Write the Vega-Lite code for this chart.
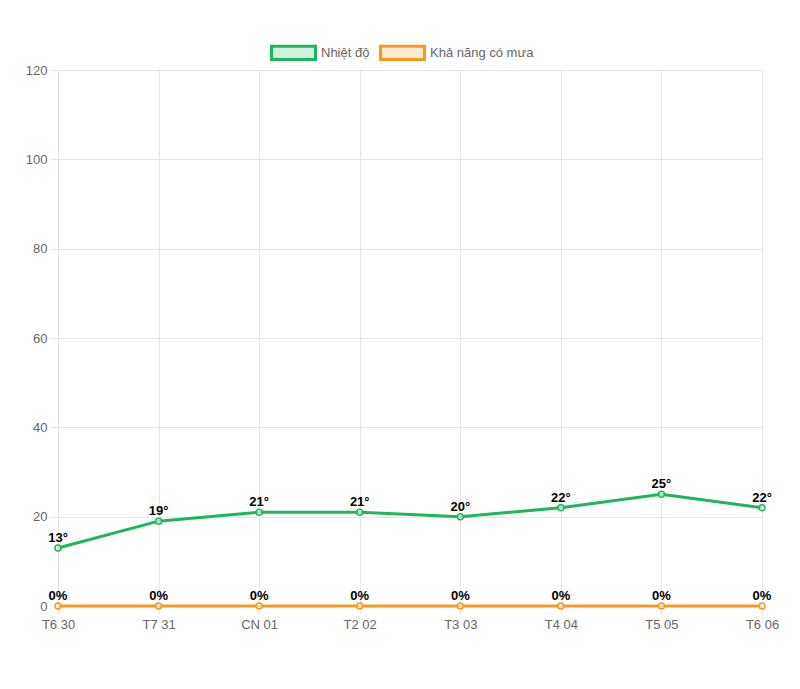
{
  "$schema": "https://vega.github.io/schema/vega-lite/v6.json",
  "width": 704,
  "height": 536,
  "autosize": {"type": "none"},
  "padding": {"left": 58, "top": 70, "right": 38, "bottom": 83},
  "background": "white",
  "data": {
    "values": [
      {"day": "T6 30", "series": "Nhiệt độ", "value": 13, "label": "13°"},
      {"day": "T7 31", "series": "Nhiệt độ", "value": 19, "label": "19°"},
      {"day": "CN 01", "series": "Nhiệt độ", "value": 21, "label": "21°"},
      {"day": "T2 02", "series": "Nhiệt độ", "value": 21, "label": "21°"},
      {"day": "T3 03", "series": "Nhiệt độ", "value": 20, "label": "20°"},
      {"day": "T4 04", "series": "Nhiệt độ", "value": 22, "label": "22°"},
      {"day": "T5 05", "series": "Nhiệt độ", "value": 25, "label": "25°"},
      {"day": "T6 06", "series": "Nhiệt độ", "value": 22, "label": "22°"},
      {"day": "T6 30", "series": "Khả năng có mưa", "value": 0, "label": "0%"},
      {"day": "T7 31", "series": "Khả năng có mưa", "value": 0, "label": "0%"},
      {"day": "CN 01", "series": "Khả năng có mưa", "value": 0, "label": "0%"},
      {"day": "T2 02", "series": "Khả năng có mưa", "value": 0, "label": "0%"},
      {"day": "T3 03", "series": "Khả năng có mưa", "value": 0, "label": "0%"},
      {"day": "T4 04", "series": "Khả năng có mưa", "value": 0, "label": "0%"},
      {"day": "T5 05", "series": "Khả năng có mưa", "value": 0, "label": "0%"},
      {"day": "T6 06", "series": "Khả năng có mưa", "value": 0, "label": "0%"}
    ]
  },
  "encoding": {
    "x": {
      "field": "day", "type": "ordinal", "sort": null,
      "scale": {"type": "point", "padding": 0},
      "axis": {
        "title": null, "labelAngle": 0, "labelFont": "Liberation Sans", "labelFontSize": 13,
        "labelColor": "#666", "tickSize": 8, "tickColor": "#e5e5e5", "domainColor": "#e0e0e0",
        "gridColor": "#e5e5e5", "grid": true, "labelPadding": 4
      }
    },
    "y": {
      "field": "value", "type": "quantitative",
      "scale": {"domain": [0, 120], "nice": false},
      "axis": {
        "title": null, "values": [0, 20, 40, 60, 80, 100, 120], "labelFont": "Liberation Sans",
        "labelFontSize": 13, "labelColor": "#666", "tickSize": 8, "tickColor": "#e5e5e5",
        "domainColor": "#e0e0e0", "gridColor": "#e5e5e5", "labelPadding": 3
      }
    },
    "color": {
      "field": "series", "type": "nominal",
      "scale": {"domain": ["Nhiệt độ", "Khả năng có mưa"], "range": ["#1db65a", "#f7991f"]},
      "legend": {
        "title": null, "orient": "none", "direction": "horizontal",
        "legendX": 212, "legendY": -41,
        "symbolType": "M-1,-0.3L1,-0.3L1,0.3L-1,0.3Z", "symbolSize": 1936,
        "symbolStrokeWidth": 3, "labelFont": "Liberation Sans", "labelFontSize": 13,
        "labelColor": "#666", "labelOffset": 4, "columnPadding": 4,
        "encode": {"symbols": {"update": {"fill": {"scale": "color", "field": "value"}, "fillOpacity": {"value": 0.2}}}}
      }
    }
  },
  "layer": [
    {"mark": {"type": "line", "strokeWidth": 3}},
    {"mark": {"type": "point", "filled": false, "fill": "white", "fillOpacity": 0.6, "size": 36, "strokeWidth": 1.5, "opacity": 1}},
    {
      "mark": {"type": "text", "baseline": "bottom", "align": "center", "dy": -3, "font": "Liberation Sans", "fontSize": 13, "fontWeight": "bold", "color": "black"},
      "encoding": {"text": {"field": "label"}, "color": {"value": "black"}}
    }
  ],
  "config": {"view": {"stroke": null}}
}
